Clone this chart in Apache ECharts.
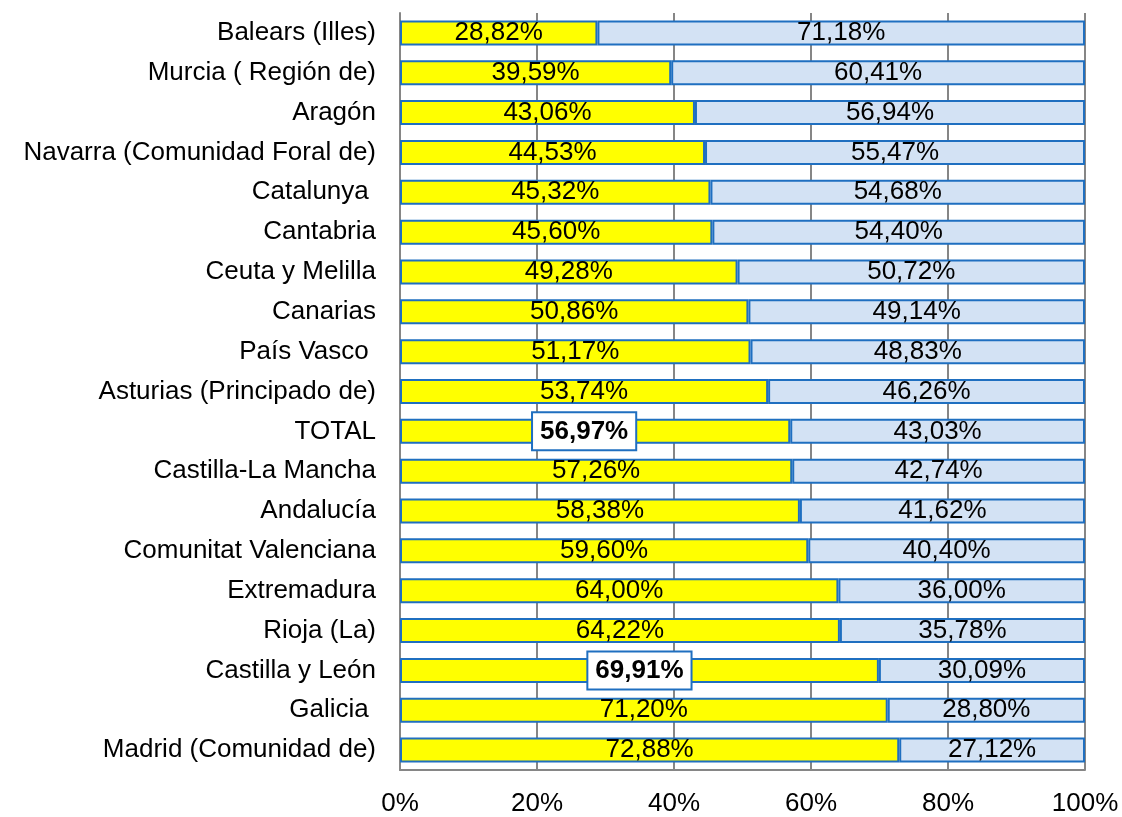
<!DOCTYPE html>
<html>
<head>
<meta charset="utf-8">
<script src="https://cdn.jsdelivr.net/npm/echarts@6/dist/echarts.min.js"></script>
<style>
html,body{margin:0;padding:0;background:#fff;}
#chart{width:1122px;height:817px;}
</style>
</head>
<body>
<div id="chart"></div>
<script>
var categories = ["Balears (Illes)", "Murcia ( Región de)", "Aragón", "Navarra (Comunidad Foral de)", "Catalunya ", "Cantabria", "Ceuta y Melilla", "Canarias", "País Vasco ", "Asturias (Principado de)", "TOTAL", "Castilla-La Mancha", "Andalucía", "Comunitat Valenciana", "Extremadura", "Rioja (La)", "Castilla y León", "Galicia ", "Madrid (Comunidad de)"];
var yellowValues = [28.82, 39.59, 43.06, 44.53, 45.32, 45.60, 49.28, 50.86, 51.17, 53.74, 56.97, 57.26, 58.38, 59.60, 64.00, 64.22, 69.91, 71.20, 72.88];
var blueValues = [71.18, 60.41, 56.94, 55.47, 54.68, 54.40, 50.72, 49.14, 48.83, 46.26, 43.03, 42.74, 41.62, 40.40, 36.00, 35.78, 30.09, 28.80, 27.12];
var xTicks = [0, 20, 40, 60, 80, 100];
var highlighted = ["TOTAL", "Castilla y León"];

var FONT = "'Liberation Sans', Arial, sans-serif";
var BORDER = "#1F6FC0";

function fmt(v) { return v.toFixed(2).replace('.', ',') + '%'; }

var yellowData = yellowValues.map(function (v, i) {
  var item = { value: v };
  if (highlighted.indexOf(categories[i]) >= 0) {
    item.label = {
      fontWeight: 'bold',
      backgroundColor: '#ffffff',
      borderColor: BORDER,
      borderWidth: 2,
      padding: [6, 7, 4, 7],
      offset: categories[i] === 'TOTAL' ? [-11, 0] : [0, 0]
    };
  }
  return item;
});

var chart = echarts.init(document.getElementById('chart'));
chart.setOption({
  animation: false,
  backgroundColor: '#ffffff',
  grid: { left: 400, right: 37, top: 13, bottom: 44, containLabel: false },
  xAxis: {
    type: 'value',
    min: 0, max: 100, interval: 20,
    axisLine: { show: true, lineStyle: { color: '#868686', width: 2 } },
    axisTick: { show: false },
    splitLine: { show: true, lineStyle: { color: '#868686', width: 2 } },
    axisLabel: {
      color: '#000', fontFamily: FONT, fontSize: 26, margin: 21,
      formatter: function (v) { return xTicks.indexOf(v) >= 0 ? v + '%' : ''; }
    }
  },
  yAxis: {
    type: 'category',
    data: categories,
    inverse: true,
    axisLine: { show: true, lineStyle: { color: '#868686', width: 2 } },
    axisTick: { show: false },
    axisLabel: { color: '#000', fontFamily: FONT, fontSize: 26, margin: 24 }
  },
  series: [
    {
      type: 'bar', stack: 'total', barWidth: 25,
      data: yellowData,
      itemStyle: { color: '#FFFF00', borderColor: BORDER, borderWidth: 2 },
      label: {
        show: true, position: 'inside', color: '#000', fontFamily: FONT, fontSize: 26,
        formatter: function (p) { return fmt(p.value); }
      }
    },
    {
      type: 'bar', stack: 'total', barWidth: 25,
      data: blueValues,
      itemStyle: { color: '#D3E2F4', borderColor: BORDER, borderWidth: 2 },
      label: {
        show: true, position: 'inside', color: '#000', fontFamily: FONT, fontSize: 26,
        formatter: function (p) { return fmt(p.value); }
      }
    }
  ]
});
</script>
</body>
</html>
